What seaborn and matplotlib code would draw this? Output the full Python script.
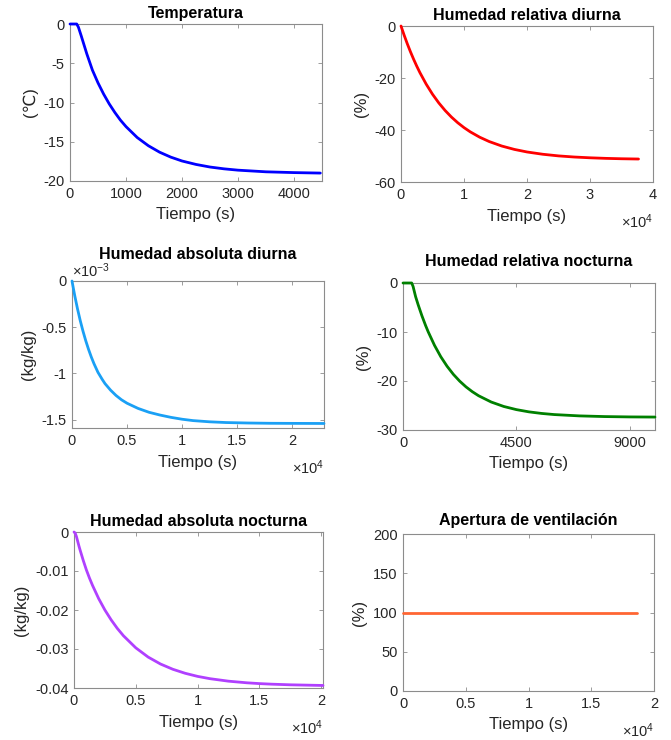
import matplotlib
matplotlib.use("Agg")
import matplotlib.pyplot as plt
import seaborn as sns
import pandas as pd
from matplotlib.ticker import FuncFormatter, FixedLocator

# ---------------- data ----------------
temp_t = [0, 120, 150, 200, 300, 400, 500, 600, 700, 800, 900, 1000, 1200, 1400, 1600, 1800, 2000,
          2250, 2500, 2750, 3000, 3500, 4000, 4470]
temp_v = [0, 0, -0.4, -1.5, -3.8, -5.87, -7.5, -8.92, -10.17, -11.26, -12.24, -13.07, -14.46, -15.51,
          -16.33, -16.96, -17.45, -17.89, -18.22, -18.45, -18.62, -18.83, -18.93, -18.99]

rhd_t = [0, 500, 1000, 1500, 2000, 2500, 3000, 4000, 5000, 6000, 7000, 8000, 9000, 10000, 11000,
         12500, 14000, 16000, 18000, 20000, 22500, 25000, 27500, 30000, 32500, 35000, 37700]
rhd_v = [0, -3.54, -6.84, -9.91, -12.77, -15.44, -17.92, -22.37, -26.24, -29.59, -32.49, -35.01,
         -37.19, -39.08, -40.72, -42.78, -44.44, -46.17, -47.47, -48.45, -49.33, -49.96, -50.39,
         -50.69, -50.91, -51.06, -51.16]

ahd_t = [0, 250, 500, 750, 1000, 1250, 1500, 1750, 2000, 2360, 2750, 3000, 3500, 4000, 4500, 5000,
         6000, 7000, 8000, 9000, 10000, 11000, 12500, 14000, 16000, 18000, 20000, 22900]
ahd_v = [0, -0.159e-3, -0.301e-3, -0.429e-3, -0.543e-3, -0.646e-3, -0.738e-3, -0.821e-3, -0.895e-3,
         -0.988e-3, -1.065e-3, -1.11e-3, -1.18e-3, -1.238e-3, -1.285e-3, -1.322e-3, -1.378e-3,
         -1.42e-3, -1.45e-3, -1.475e-3, -1.495e-3, -1.51e-3, -1.523e-3, -1.531e-3, -1.536e-3,
         -1.539e-3, -1.54e-3, -1.541e-3]

rhn_t = [0, 345, 400, 500, 600, 750, 900, 1000, 1250, 1500, 1750, 2000, 2250, 2500, 2750, 3000,
         3500, 4000, 4500, 5000, 5500, 6000, 7000, 8000, 9000, 10000]
rhn_v = [0, 0, -0.7, -2.78, -4.42, -6.68, -8.72, -9.96, -12.72, -15.05, -17.0, -18.65, -20.03,
         -21.2, -22.18, -23.01, -24.29, -25.2, -25.84, -26.3, -26.62, -26.85, -27.12, -27.26,
         -27.33, -27.36]

ahn_t = [0, 100, 200, 300, 400, 500, 750, 1000, 1250, 1500, 2000, 2500, 3000, 3500, 4000, 5000,
         6000, 7000, 8000, 9000, 10000, 11000, 12500, 14000, 15000, 16000, 17500, 20150]
ahn_v = [0, -0.0003, -0.0012, -0.0024, -0.0036, -0.0047, -0.0073, -0.0097, -0.0118, -0.0137,
         -0.0171, -0.0200, -0.0225, -0.0247, -0.0266, -0.0297, -0.03207, -0.03385, -0.0352,
         -0.03623, -0.03702, -0.03761, -0.03825, -0.03867, -0.03887, -0.03902, -0.03918, -0.03935]

vent_t = [0, 18670]
vent_v = [100, 100]

titles = ["Temperatura", "Humedad relativa diurna", "Humedad absoluta diurna",
          "Humedad relativa nocturna", "Humedad absoluta nocturna", "Apertura de ventilación"]
ylabels = ["(℃)", "(%)", "(kg/kg)", "(%)", "(kg/kg)", "(%)"]
colors = ["#0000FF", "#FF0000", "#1AA0F5", "#008000", "#B040FF", "#FF6633"]

# ---------------- style ----------------
sns.set_theme(style="white")
plt.rcParams["font.family"] = ["Liberation Sans", "DejaVu Sans"]
plt.rcParams["axes.unicode_minus"] = False
plt.rcParams["mathtext.fontset"] = "custom"
plt.rcParams["mathtext.rm"] = "Liberation Sans"
plt.rcParams["mathtext.it"] = "Liberation Sans"

W, H = 671, 740
fig = plt.figure(figsize=(W / 100, H / 100), dpi=100)
fig.patch.set_facecolor("white")

def add_ax(l, r, t, b):
    return fig.add_axes([l / W, 1 - b / H, (r - l) / W, (b - t) / H])

rects = [(70, 322, 24, 181), (401, 653, 26, 182),
         (72, 324, 281, 428), (403, 655, 283, 430),
         (74, 323, 532, 688), (403, 654, 534, 691)]
title_pads = [4.5, 4.5, 16, 12, 4, 6.5]

series = [(temp_t, temp_v), (rhd_t, rhd_v), (ahd_t, ahd_v),
          (rhn_t, rhn_v), (ahn_t, ahn_v), (vent_t, vent_v)]

fmt_g = FuncFormatter(lambda v, p: f"{v:g}")
fmt_e4 = FuncFormatter(lambda v, p: f"{v / 1e4:g}")
fmt_em3 = FuncFormatter(lambda v, p: f"{v * 1e3:g}")

axes = []
for i, (rect, (t, v)) in enumerate(zip(rects, series)):
    ax = add_ax(*rect)
    df = pd.DataFrame({"t": t, "v": v})
    sns.lineplot(data=df, x="t", y="v", ax=ax, color=colors[i], lw=2.0, sort=False)
    for ln in ax.lines:
        ln.set_clip_on(False)
        ln.set_zorder(5)
        ln.set_solid_joinstyle("round")
    ax.set_title(titles[i], fontsize=11.5, fontweight="bold", color="black", pad=title_pads[i])
    ax.set_xlabel("Tiempo (s)", fontsize=12, color="#262626", labelpad=5)
    ax.set_ylabel(ylabels[i], fontsize=12, color="#262626", labelpad=4)
    for s in ax.spines.values():
        s.set_color("#8c8c8c")
        s.set_linewidth(0.8)
        s.set_visible(True)
        s.set_zorder(1)
    ax.tick_params(direction="in", length=3, width=0.6, color="#8c8c8c",
                   top=True, right=True, bottom=True, left=True,
                   labelsize=10.5, labelcolor="#262626", pad=4)
    ax.grid(False)
    axes.append(ax)

def exp_text(ax, txt, where):
    if where == "x":
        ax.annotate(txt, xy=(1, 0), xycoords="axes fraction", xytext=(0, -30),
                    textcoords="offset pixels", ha="right", va="top",
                    fontsize=10.5, color="#262626")
    else:
        ax.annotate(txt, xy=(0, 1), xycoords="axes fraction", xytext=(0, 1),
                    textcoords="offset pixels", ha="left", va="bottom",
                    fontsize=10.5, color="#262626")

# Panel 1
ax = axes[0]
ax.set_xlim(0, 4500); ax.set_ylim(-20, 0)
ax.xaxis.set_major_locator(FixedLocator([0, 1000, 2000, 3000, 4000]))
ax.yaxis.set_major_locator(FixedLocator([-20, -15, -10, -5, 0]))
ax.xaxis.set_major_formatter(fmt_g); ax.yaxis.set_major_formatter(fmt_g)

# Panel 2
ax = axes[1]
ax.set_xlim(0, 40000); ax.set_ylim(-60, 0)
ax.xaxis.set_major_locator(FixedLocator([0, 10000, 20000, 30000, 40000]))
ax.yaxis.set_major_locator(FixedLocator([-60, -40, -20, 0]))
ax.xaxis.set_major_formatter(fmt_e4); ax.yaxis.set_major_formatter(fmt_g)
exp_text(ax, r"$\times10^{4}$", "x")

# Panel 3
ax = axes[2]
ax.set_xlim(0, 22900); ax.set_ylim(-1.59e-3, 0)
ax.xaxis.set_major_locator(FixedLocator([0, 5000, 10000, 15000, 20000]))
ax.yaxis.set_major_locator(FixedLocator([-1.5e-3, -1e-3, -0.5e-3, 0]))
ax.xaxis.set_major_formatter(fmt_e4); ax.yaxis.set_major_formatter(fmt_em3)
exp_text(ax, r"$\times10^{4}$", "x")
exp_text(ax, r"$\times10^{-3}$", "y")

# Panel 4
ax = axes[3]
ax.set_xlim(0, 10000); ax.set_ylim(-30, 0)
ax.xaxis.set_major_locator(FixedLocator([0, 4500, 9000]))
ax.yaxis.set_major_locator(FixedLocator([-30, -20, -10, 0]))
ax.xaxis.set_major_formatter(fmt_g); ax.yaxis.set_major_formatter(fmt_g)

# Panel 5
ax = axes[4]
ax.set_xlim(0, 20150); ax.set_ylim(-0.04, 0)
ax.xaxis.set_major_locator(FixedLocator([0, 5000, 10000, 15000, 20000]))
ax.yaxis.set_major_locator(FixedLocator([-0.04, -0.03, -0.02, -0.01, 0]))
ax.xaxis.set_major_formatter(fmt_e4); ax.yaxis.set_major_formatter(fmt_g)
exp_text(ax, r"$\times10^{4}$", "x")

# Panel 6
ax = axes[5]
ax.set_xlim(0, 20000); ax.set_ylim(0, 200)
ax.xaxis.set_major_locator(FixedLocator([0, 5000, 10000, 15000, 20000]))
ax.yaxis.set_major_locator(FixedLocator([0, 50, 100, 150, 200]))
ax.xaxis.set_major_formatter(fmt_e4); ax.yaxis.set_major_formatter(fmt_g)
exp_text(ax, r"$\times10^{4}$", "x")

fig.savefig("out.png", dpi=100, facecolor="white")
